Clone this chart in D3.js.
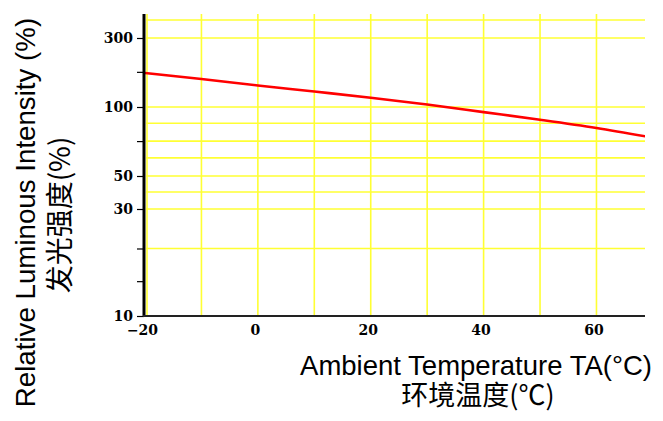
<!DOCTYPE html>
<html><head><meta charset="utf-8">
<script src="https://cdn.jsdelivr.net/npm/d3@7"></script>
<style>body{margin:0;background:#fff}svg{display:block}</style>
</head><body><svg id="c" width="663" height="421"></svg>
<script>
// ---- data ----
const temps = [-20, -10, 0, 10, 20, 30, 40, 50, 60, 70];
const intensity = [172, 156, 141, 128, 116, 104, 95, 88, 81, 73.5];
const xTickValues = [-20, 0, 20, 40, 60];
const xGridValues = [-20, -10, 0, 10, 20, 30, 40, 50, 60];
const yLabelValues = [10, 30, 50, 100, 300];
const yMinorValues = [14.3, 20, 71, 175];
const yGridValues = [20, 30, 39, 50, 60, 71, 85, 100, 300, 400];
const yBreaks = [10, 30, 50, 100, 300, 400];

const svg = d3.select("#c");
const L = 144, R = 645, T = 14, B = 316;

const x = d3.scaleLinear().domain([-20, 68.6]).range([145, R]);
// the original chart uses an irregular (piecewise logarithmic) y axis
const y = d3.scaleLog().domain(yBreaks).range([B, 209, 176, 107, 38, 20]);

const YEL = "#ffff33";
// grid
svg.append("g").selectAll("line").data(yGridValues).join("line")
  .attr("x1", L + 2).attr("x2", R)
  .attr("y1", d => y(d)).attr("y2", d => y(d))
  .attr("stroke", YEL).attr("stroke-width", 1.6);
svg.append("g").selectAll("line").data(xGridValues).join("line")
  .attr("x1", d => x(d) + (d === -20 ? 2 : 0)).attr("x2", d => x(d) + (d === -20 ? 2 : 0))
  .attr("y1", T).attr("y2", B)
  .attr("stroke", YEL).attr("stroke-width", 1.6);

// data line
svg.append("clipPath").attr("id", "clip").append("rect")
  .attr("x", L).attr("y", T).attr("width", R - L).attr("height", B - T);
const pts = temps.map((t, i) => [t, intensity[i]]);
svg.append("path").datum(pts)
  .attr("clip-path", "url(#clip)")
  .attr("fill", "none").attr("stroke", "#ff0000").attr("stroke-width", 2.6)
  .attr("d", d3.line().curve(d3.curveMonotoneX).x(d => x(d[0])).y(d => y(d[1])));

// y axis
const labelSet = new Set(yLabelValues);
const yAxis = d3.axisLeft(y)
  .tickValues(yLabelValues.concat(yMinorValues))
  .tickSize(7).tickPadding(4)
  .tickFormat(d => labelSet.has(d) ? String(d) : "");
const gy = svg.append("g").attr("transform", `translate(${L},0)`).call(yAxis);
gy.select(".domain").remove();
gy.selectAll(".tick line").attr("stroke", "#000").attr("stroke-width", 1.2);
gy.selectAll(".tick text").attr("fill", "#000")
  .style("font-family", "'DejaVu Serif', serif").style("font-weight", "bold").style("font-size", "14px");
svg.append("line").attr("x1", L).attr("x2", L).attr("y1", T).attr("y2", B + 1)
  .attr("stroke", "#000").attr("stroke-width", 3);

// x axis
const xAxis = d3.axisBottom(x).tickValues(xTickValues).tickSize(0).tickPadding(9);
const gx = svg.append("g").attr("transform", `translate(0,${B})`).call(xAxis);
gx.select(".domain").remove();
gx.selectAll(".tick text").attr("fill", "#000").attr("dx", "-3")
  .style("font-family", "'DejaVu Serif', serif").style("font-weight", "bold").style("font-size", "14px");
svg.append("line").attr("x1", L - 1).attr("x2", R).attr("y1", B).attr("y2", B)
  .attr("stroke", "#222").attr("stroke-width", 2);

// titles
svg.append("text").attr("transform", "translate(35,212.5) rotate(-90)")
  .attr("text-anchor", "middle").style("font-family", "'Liberation Sans', Arial, sans-serif")
  .style("font-size", "27.7px").attr("fill", "#000")
  .text("Relative Luminous Intensity (%)");
svg.append("text").attr("transform", "translate(70,215) rotate(-90)")
  .attr("text-anchor", "middle").style("font-family", "'Noto Sans CJK SC', sans-serif")
  .style("font-size", "28px").attr("fill", "#000")
  .text("发光强度(%)");
svg.append("text").attr("x", 476).attr("y", 375)
  .attr("text-anchor", "middle").style("font-family", "'Liberation Sans', Arial, sans-serif")
  .style("font-size", "27.5px").attr("fill", "#000")
  .text("Ambient Temperature TA(°C)");
svg.append("text").attr("x", 478).attr("y", 405)
  .attr("text-anchor", "middle").style("font-family", "'Noto Sans CJK SC', sans-serif")
  .style("font-size", "27px").attr("fill", "#000")
  .text("环境温度(℃)");
</script></body></html>
